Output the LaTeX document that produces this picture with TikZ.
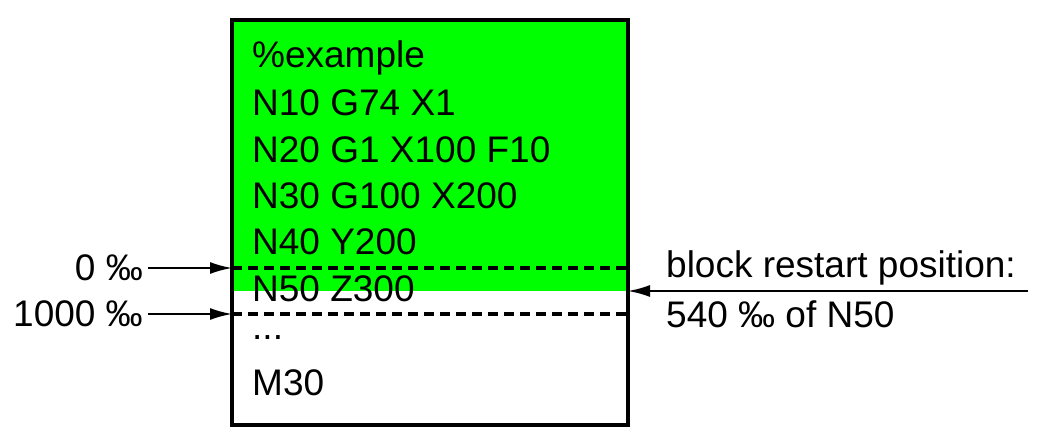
\documentclass[tikz,border=0pt]{standalone}
\usepackage{fontspec}
\setmainfont{Liberation Sans}
\usetikzlibrary{arrows.meta}
\tikzset{
  codeline/.style={anchor=west, inner sep=0pt, font=\fontsize{37}{37}\selectfont},
  sidelabel/.style={inner sep=0pt, font=\fontsize{37}{37}\selectfont},
  pointer/.style={-{Latex[length=22pt,width=12pt]}, line width=2pt},
}
\begin{document}
\begin{tikzpicture}[x=1pt,y=-1pt]
  \useasboundingbox (0,0) rectangle (1053,447);
  % program block
  \fill [green] (232,20) rectangle (628,291);
  \draw [line width=4pt] (232,20) rectangle (628,425);
  \coordinate (b0w) at (232,268);
  \coordinate (b0e) at (628,268);
  \coordinate (b1w) at (232,314);
  \coordinate (b1e) at (628,314);
  \coordinate (pos) at (628,291);
  \draw [dashed, line width=3.5pt, dash pattern=on 10pt off 6pt] (b0w) -- (b0e);
  \draw [dashed, line width=3.5pt, dash pattern=on 10pt off 6pt] (b1w) -- (b1e);
  % code lines
  \node [codeline] (l1) at (252,58) {\%example};
  \node [codeline] (l2) at (252,103) {N10 G74 X1};
  \node [codeline] (l3) at (252,150) {N20 G1 X100 F10};
  \node [codeline] (l4) at (252,196) {N30 G100 X200};
  \node [codeline] (l5) at (252,242) {N40 Y200};
  \node [codeline] (l6) at (252,289) {N50 Z300};
  \node [codeline] (l7) at (252,338) {...};
  \node [codeline] (l8) at (252,383) {M30};
  % labels
  \node [sidelabel, anchor=east] (zero) at (143,268) {0 ‰};
  \node [sidelabel, anchor=east] (full) at (143,314) {1000 ‰};
  \draw [pointer] (zero.east) ++(5pt,0) -- (b0w);
  \draw [pointer] (full.east) ++(5pt,0) -- (b1w);
  \node [sidelabel, anchor=west] (restart) at (666,268) {block restart position:};
  \node [sidelabel, anchor=west] (share) at (666,314) {540 ‰ of N50};
  \coordinate (from) at (1028,291);
  \draw [pointer] (from) -- (pos);
\end{tikzpicture}
\end{document}
